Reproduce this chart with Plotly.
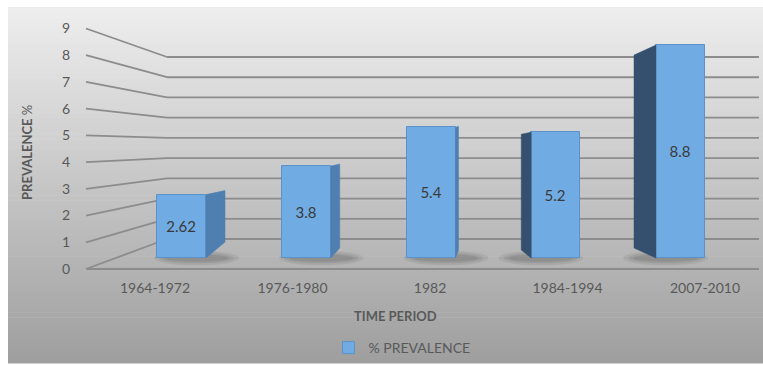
import plotly.graph_objects as go

# ---------------- data ----------------
periods = ["1964-1972", "1976-1980", "1982", "1984-1994", "2007-2010"]
prevalence = [2.62, 3.8, 5.4, 5.2, 8.8]
y_ticks = [0, 1, 2, 3, 4, 5, 6, 7, 8, 9]
series_name = "% PREVALENCE"

# ---------------- layout constants (pixels) ----------------
W, H = 763, 365
L, R, T, B = 86, 0, 20, 93
PW = W - L - R
PH = H - T - B
PLOT_BOTTOM = H - B  # 272

def px_x(p):
    return (p - L) / PW

def px_y(p):
    return (PLOT_BOTTOM - p) / PH

# front axis scale (tick labels): 0 at 269, 9 at 28.5
FRONT0, FRONT_U = 269.0, 26.72
# back wall scale: 0 at 239, 9 at 57
BACK0, BACK_U = 239.0, 20.22
WALL_X = 167
# bar scale: 0 at 258, 24.2 px/unit
BAR0, BAR_U = 258.0, 24.2
# bar x scale: first bar centre 181.5, 124.75 px per step
BAR_X0, BAR_DX = 181.5, 124.75
# label x scale: first label centre 155, 137.5 px per step
LAB_X0, LAB_DX = 155.0, 137.5

def rng_y(zero_px, unit):
    return [(zero_px - PLOT_BOTTOM) / unit, (zero_px - T) / unit]

def rng_x(first_px, step):
    r0 = -(first_px - L) / step
    return [r0, r0 + PW / step]

FRONT_W_PX = 49
bar_w = FRONT_W_PX / BAR_DX
hw = bar_w / 2

# side face style per bar: (side px, direction, top shift px up, bottom shift px up, colour)
side_style = [
    (19, 1, 4, 16, "#4f7fb0"),
    (9, 1, 2, 10, "#4f7fb0"),
    (3, 1, 1, 8, "#4f7fb0"),
    (10, -1, -2, 8, "#34506e"),
    (22, -1, -10, 10, "#34506e"),
]

fig = go.Figure()

# invisible trace to carry category label axis
fig.add_trace(go.Scatter(x=periods, y=prevalence, xaxis="x2", yaxis="y",
                         mode="markers", marker=dict(opacity=0),
                         showlegend=False, hoverinfo="skip"))

# side faces
xi = list(range(len(periods)))
for i, v in enumerate(prevalence):
    s, d, tu, bu, col = side_style[i]
    xe = xi[i] + d * hw
    xb = xe + d * s / BAR_DX
    xs = [xe, xb, xb, xe, xe]
    ys = [0, bu / BAR_U, v + tu / BAR_U, v, 0]
    fig.add_trace(go.Scatter(x=xs, y=ys, xaxis="x", yaxis="y3", mode="lines",
                             fill="toself", fillcolor=col,
                             line=dict(color=col, width=0.5),
                             showlegend=False, hoverinfo="skip"))

# front faces
fig.add_trace(go.Bar(
    x=xi, y=prevalence, xaxis="x", yaxis="y3", width=bar_w,
    name=series_name,
    marker=dict(color="#70ace3", line=dict(color="#5b92c8", width=1)),
    texttemplate="%{y}", textposition="inside", insidetextanchor="middle",
    textangle=0, textfont=dict(family="Lato", size=15, color="#3a3a3a"),
    hoverinfo="skip",
))

shapes = []
# background gradient
top_px, bot_px = 7, 363
n = 70
c0, c1 = (238, 238, 238), (158, 158, 158)
for k in range(n):
    a = top_px + (bot_px - top_px) * k / n
    b = top_px + (bot_px - top_px) * (k + 1) / n + 0.6
    t = (k + 0.5) / n
    c = tuple(int(round(c0[j] + (c1[j] - c0[j]) * t)) for j in range(3))
    shapes.append(dict(type="rect", xref="paper", yref="paper",
                       x0=px_x(8), x1=px_x(W), y0=px_y(b), y1=px_y(a),
                       fillcolor="rgb(%d,%d,%d)" % c, line=dict(width=0),
                       layer="below"))

# soft shadows under bars
for i in xi:
    d = side_style[i][1]
    cx = xi[i] + d * 0.12
    for (sx, sy, op) in [(0.34, 0.30, 0.10), (0.30, 0.22, 0.12), (0.26, 0.15, 0.14)]:
        shapes.append(dict(type="circle", xref="x", yref="y3",
                           x0=cx - sx, x1=cx + sx, y0=-sy, y1=sy,
                           fillcolor="#404040", opacity=op, line=dict(width=0),
                           layer="below"))

# gridlines (perspective)
gcol = "#8c8c8c"
for v in y_ticks:
    fy = FRONT0 - v * FRONT_U
    by = BACK0 - v * BACK_U
    shapes.append(dict(type="line", xref="paper", yref="paper",
                       x0=px_x(L), y0=px_y(fy), x1=px_x(WALL_X), y1=px_y(by),
                       line=dict(color=gcol, width=1.8), layer="below"))
    shapes.append(dict(type="line", xref="paper", yref="paper",
                       x0=px_x(WALL_X), y0=px_y(by), x1=px_x(W - 4), y1=px_y(by),
                       line=dict(color=gcol, width=1.8), layer="below"))
# floor front edge
shapes.append(dict(type="line", xref="paper", yref="paper",
                   x0=px_x(L), y0=px_y(FRONT0), x1=px_x(W - 4), y1=px_y(FRONT0),
                   line=dict(color=gcol, width=1.8), layer="below"))

font_col = "#595959"
fig.update_layout(
    width=W, height=H, autosize=False,
    margin=dict(l=L, r=R, t=T, b=B),
    paper_bgcolor="#ffffff", plot_bgcolor="rgba(0,0,0,0)",
    font=dict(family="Lato", color=font_col),
    shapes=shapes,
    bargap=0,
    xaxis=dict(type="linear", range=rng_x(BAR_X0, BAR_DX), visible=False,
               fixedrange=True),
    xaxis2=dict(type="category", overlaying="x", anchor="y",
                range=rng_x(LAB_X0, LAB_DX), showgrid=False, zeroline=False,
                showline=False, ticks="outside", ticklen=3,
                tickcolor="rgba(0,0,0,0)",
                tickfont=dict(family="Lato", size=14, color=font_col)),
    yaxis=dict(range=rng_y(FRONT0, FRONT_U), tickvals=y_ticks,
               showgrid=False, zeroline=False, showline=False,
               ticks="outside", ticklen=12, tickcolor="rgba(0,0,0,0)",
               tickfont=dict(family="Lato", size=14, color=font_col)),
    yaxis3=dict(range=rng_y(BAR0, BAR_U), overlaying="y", anchor="x",
                visible=False),
    legend=dict(orientation="h", x=px_x(402), xanchor="center",
                y=px_y(348), yanchor="middle", itemwidth=30,
                font=dict(family="Lato", size=14, color=font_col),
                bgcolor="rgba(0,0,0,0)"),
    annotations=[
        dict(text="<b>TIME PERIOD</b>", xref="paper", yref="paper",
             x=px_x(395), y=px_y(316), xanchor="center", yanchor="middle",
             showarrow=False,
             font=dict(family="Lato", size=13, color=font_col)),
        dict(text="<b>PREVALENCE</b> %", xref="paper", yref="paper",
             x=px_x(27), y=px_y(153), xanchor="center", yanchor="middle",
             showarrow=False, textangle=-90,
             font=dict(family="Lato", size=13, color=font_col)),
    ],
)

fig.write_html("out.html")
